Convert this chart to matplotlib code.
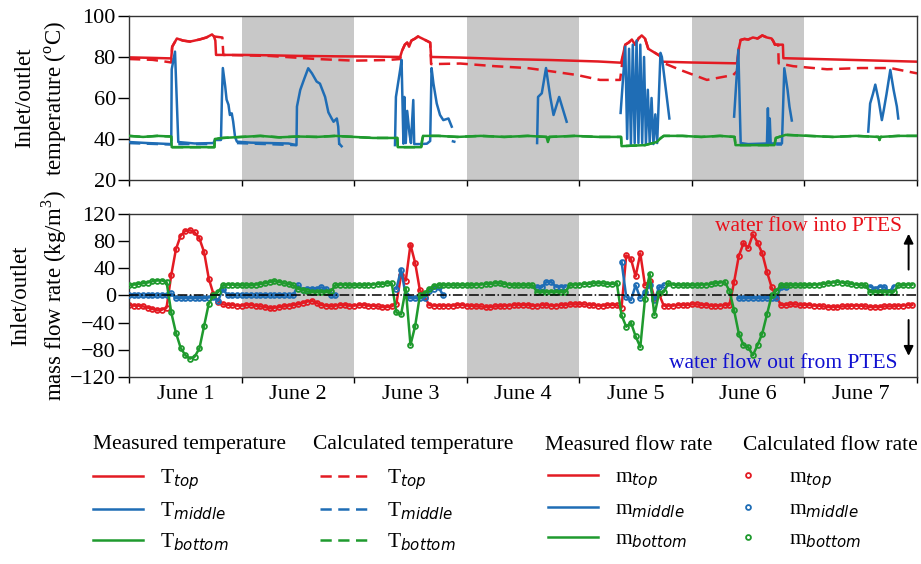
"""
PTES inlet/outlet temperature and mass flow rate, June 1-7
"""
import numpy as np
import matplotlib
matplotlib.use('Agg')
import matplotlib.pyplot as plt
from matplotlib.lines import Line2D

plt.rcParams['font.family'] = ['Liberation Serif', 'DejaVu Serif']
plt.rcParams['mathtext.fontset'] = 'custom'
plt.rcParams['mathtext.rm'] = 'Liberation Serif'
plt.rcParams['mathtext.it'] = 'DejaVu Sans:italic'
plt.rcParams['axes.unicode_minus'] = True

N = np.nan

# ---------------- data ----------------
DAY_LABELS = ['June 1', 'June 2', 'June 3', 'June 4', 'June 5', 'June 6', 'June 7']
SHADED_DAYS = [1, 3, 5]

# temperatures, (hour, degC)
T_TOP_MEAS = [
    (0, 79.8), (4, 79.6), (9.0, 79.3), (9.2, 85), (10.2, 89), (11.5, 88), (13, 87.5), (15, 88.5),
    (16.5, 89.5), (17.7, 91), (18.1, 90), (18.4, 88), (18.55, 81),
    (24, 81), (30, 80.8), (36.5, 80.5), (45, 80.3), (52, 80.2), (57.8, 80),
    (58.2, 83), (58.8, 86), (59.3, 87), (59.7, 85), (60.2, 88), (61.0, 89), (61.6, 90), (62.5, 89),
    (63.8, 87.5), (64.2, 87), (64.4, 80),
    (70.6, 79.7), (80, 79), (90, 78.5), (100, 77.8), (104.9, 77.2),
    (105.4, 82), (105.8, 86), (106.5, 87), (107.2, 88.5), (107.9, 86), (108.6, 89), (109.3, 90.5),
    (110.0, 89), (110.7, 84), (111.4, 83), (112.5, 81.5), (113.2, 80.5), (113.5, 77.7),
    (120, 77.3), (129.6, 76.9), (130.0, 84), (130.4, 88.3), (131.2, 88.8), (132.0, 88.5), (133.0, 89.5),
    (134.0, 89), (135.0, 90.5), (136.0, 89.5), (137.0, 89), (137.4, 87.5), (137.7, 86), (139.4, 86),
    (139.5, 79.4), (150, 78.8), (160, 78.2), (168, 77.7),
]
T_TOP_CALC = [
    (0, 79), (5, 78.6), (8.5, 77.5), (9.0, 77.3), (9.2, 85), (10.2, 89), (11.5, 88), (13, 87.5),
    (15, 88.5), (16.5, 89.5), (17.7, 91), (18.1, 90), (19.9, 89.5), (20.1, 81),
    (30, 80.5), (40, 79), (48, 78.2), (55, 78.5), (57.8, 79),
    (58.2, 83), (58.8, 86), (59.3, 87), (59.7, 85), (60.2, 88), (61.0, 89), (61.6, 90), (62.5, 89),
    (63.8, 87.5), (64.2, 87), (64.4, 76.5),
    (70.6, 76.8), (78, 75.5), (84.9, 74.6), (90, 73), (95.5, 71.2), (100.4, 68.8), (104.7, 68.8),
    (105.4, 82), (105.8, 86), (106.5, 87), (107.2, 88.5), (107.9, 86), (108.6, 89), (109.3, 90.5),
    (110.0, 89), (110.7, 84), (111.4, 83), (112.5, 81.5), (113.2, 80.5), (113.5, 77.5),
    (117.5, 73.7), (123.2, 68.8), (128.8, 71.2), (129.6, 73),
    (130.0, 84), (130.4, 88.3), (131.2, 88.8), (132.0, 88.5), (133.0, 89.5), (134.0, 89), (135.0, 90.5),
    (136.0, 89.5), (137.0, 89), (137.4, 87.5), (137.7, 86), (138.4, 86), (138.5, 76.9),
    (141.6, 75.5), (148.8, 74), (155.9, 74.6), (162.3, 74.6), (168, 72),
]
T_MID_MEAS = [
    (0, 38.5), (4, 38), (9.0, 37.5), (9.1, 74), (9.8, 82.6), (10.5, 38.5), (14, 37.8), (18.0, 38),
    (18.3, 39.5), (19.6, 39.5), (19.8, 60), (20.0, 74.6), (20.5, 65.7), (20.8, 59.2), (21.2, 56.7),
    (21.5, 51.7), (21.9, 52.5), (22.2, 48.5), (22.6, 41), (23.0, 38.7), (26, 38.2), (30, 38),
    (34, 37.8), (35.7, 37), (35.8, 55.8), (36.5, 63.9), (37.3, 69), (38.2, 74.5), (39.0, 72),
    (40.0, 68), (40.7, 67), (41.8, 60.5), (42.5, 53), (43.2, 50), (43.6, 48.4), (44.3, 50),
    (44.6, 46), (44.8, 37.7), (44.9, N),
    (56.7, 37), (56.9, 60.5), (57.8, 73.7), (58.1, 78.6), (58.5, 37.7), (58.7, 60.5), (59.0, 38),
    (59.3, 53.7), (59.8, 42.4), (60.1, 38), (60.6, 59), (60.8, 37.5), (62.0, 37.5), (63.5, 37.7),
    (64.2, 39), (64.5, 74.6), (64.9, 67), (65.6, 57.3), (66.3, 51.7), (67.0, 49.2), (68.1, 50),
    (68.8, 46), (68.9, N),
    (87.0, 38), (87.2, 60.5), (88.0, 62.3), (88.9, 74.6), (89.8, 60.5), (90.5, 51.7), (91.7, 60.5),
    (93.3, 48.4), (93.4, N),
    (104.8, 52.7), (105.8, 85), (106.2, 40), (106.6, 84), (107.0, 37.5), (107.4, 86), (107.8, 38),
    (108.2, 88), (108.6, 38), (109.0, 86), (109.4, 38), (109.8, 80), (110.2, 37.5), (110.6, 64),
    (111.0, 38), (111.4, 60), (111.8, 37.5), (112.2, 52), (112.6, 38), (113.3, 82), (113.6, 80),
    (114.4, 65), (115.2, 50), (115.3, N),
    (129.0, 50.9), (129.9, 83.4), (130.4, 38), (132, 37.5), (136.0, 37.8), (136.2, 55), (136.4, 37.8),
    (136.6, 50), (136.8, 37.8), (139.2, 37.8), (139.7, 74.5), (140.4, 63.9), (140.8, 55.8),
    (141.3, 49), (141.4, N),
    (157.6, 43.6), (158.0, 57.3), (158.6, 62), (159.1, 66.5), (159.8, 59), (160.5, 49.2),
    (160.9, 54), (161.5, 62), (162.3, 73.7), (163.0, 64), (163.7, 55.8), (164.0, 50),
]
T_MID_CALC = [
    (0, 38), (9.0, 37.3), (9.05, N), (10.5, 37.5), (18.0, 37.5), (18.1, N),
    (23.0, 38), (35.7, 37), (35.8, N), (44.8, 37.7), (45.5, 36), (45.6, N),
    (68.8, 39), (69.6, 38.5), (69.7, N), (130.4, 37.3), (139.2, 37.3),
]
T_BOT_MEAS = [
    (0, 41.5), (3, 41), (6, 41.5), (9.0, 41.2), (9.1, 36), (18.2, 36), (18.3, 40), (20, 40.5),
    (24, 41), (28, 41.5), (32, 40.8), (36, 41.2), (40, 41), (44, 41.5), (48, 41), (52, 40.5),
    (57.2, 40.5), (57.3, 36), (62.3, 36), (62.5, 39.5), (62.7, 41.5), (66, 41.5), (70, 41),
    (75, 41.5), (80, 41), (85, 41.5), (89.0, 41), (89.3, 38.5), (89.6, 41), (95, 41.5), (100, 41),
    (104.9, 41), (105.0, 36.5), (110, 37), (112.5, 38.5), (113.4, 40.5), (114, 41.5), (118, 41.5),
    (122, 41), (126, 41.5), (129.1, 41), (129.3, 37), (137.6, 37), (137.9, 40.5), (140, 42),
    (145, 41.5), (150, 41), (155, 41.5), (159.8, 41), (160.0, 39.5), (160.2, 41), (164, 41.5),
    (168, 41.5),
]
T_BOT_CALC = T_BOT_MEAS  # calculated bottom temperature lies on the measured curve

# mass flow rate, one value per hour (kg/m3)
M_TOP = [
    -14, -15, -15, -16, -18, -20, -22, -21, -18, 30, 68, 88, 95, 96, 93, 84, 64, 25, 2, -9, -13, -14, -14, -15,
    -15, -14, -14, -15, -16, -17, -19, -18, -17, -16, -15, -14, -13, -11, -9, -8, -11, -14, -15, -16, -15, -14, -14, -15,
    -15, -14, -14, -15, -15, -16, -17, -17, -16, -12, 30, 22, 75, 48, 8, -2, -14, -15, -15, -15, -15, -15, -14, -14,
    -15, -15, -16, -16, -17, -17, -16, -16, -15, -15, -14, -14, -14, -14, -15, -15, -14, -14, -15, -15, -14, -14, -13, -13,
    -13, -13, -14, -14, -15, -15, -14, -14, -14, -18, 59, 54, 28, 62, 15, 22, -4, 2, -15, -15, -15, -14, -14, -14,
    -13, -13, -14, -14, -15, -15, -15, -14, -14, 20, 58, 77, 70, 90, 78, 62, 35, 12, -2, -14, -14, -13, -13, -14,
    -14, -14, -15, -15, -16, -17, -17, -17, -16, -16, -15, -15, -15, -16, -17, -17, -17, -16, -16, -16, -15, -15, -14, -14,
]
M_MID = [
    0, 0, 0, 0, 0, 0, 0, 0, 0, 3, -4, -4, -4, -4, -4, -4, -4, -3, -2, -8, 10, 0, 0, 0,
    0, 0, 0, 0, 0, 0, 0, 0, 0, 0, 0, 0, 15, 8, 10, 10, 10, 12, 10, 0, 0, N, N, N,
    N, N, N, N, N, N, N, N, N, 10, 38, 0, -4, -4, -4, -4, 7, 10, 12, 0, N, N, N, N,
    N, N, N, N, N, N, N, N, N, N, N, N, N, N, N, 12, 12, 20, 20, 13, 13, 13, N, N,
    N, N, N, N, N, N, N, N, N, 50, -2, -7, 15, -4, 5, 15, -7, 12, 15, N, N, N, N, N,
    N, N, N, N, N, N, N, N, N, N, -4, -4, -4, -4, -4, -4, -4, -4, -4, 12, 12, N, N, N,
    N, N, N, N, N, N, N, N, N, N, N, N, N, N, 13, 10, 13, 13, 5, 13, N, N, N, N,
]
M_BOT = [
    15, 16, 17, 18, 19, 21, 22, 22, 20, -25, -55, -77, -88, -93, -90, -78, -45, -12, 0, 5, 15, 16, 16, 15,
    15, 15, 15, 16, 17, 18, 20, 21, 20, 18, 17, 15, 10, 8, 6, 5, 5, 5, 5, 6, 15, 16, 16, 15,
    15, 15, 15, 16, 16, 17, 17, 18, 18, -25, -28, 10, -73, -45, 0, 3, 10, 14, 15, 15, 15, 15, 15, 15,
    15, 15, 16, 16, 17, 17, 18, 18, 17, 16, 15, 15, 15, 15, 15, 5, 5, 5, 5, 5, 5, 5, 15, 16,
    16, 17, 17, 18, 18, 18, 17, 17, 18, -29, -46, -40, -60, -76, -5, 32, -29, 3, 5, 18, 16, 15, 15, 15,
    15, 15, 16, 16, 17, 18, 19, 20, 7, -22, -56, -73, -76, -88, -73, -56, -28, 0, 7, 15, 15, 15, 15, 15,
    15, 15, 16, 16, 17, 18, 19, 20, 19, 18, 17, 16, 15, 15, 5, 5, 5, 5, 5, 5, 15, 15, 16, 16,
]
# calculated flow rates sit on the measured ones
M_TOP_CALC, M_MID_CALC, M_BOT_CALC = M_TOP, M_MID, M_BOT

# ---------------- style ----------------
RED = '#e31b23'
BLUE = '#1f6db5'
GREEN = '#1f9a2e'
SHADE = '#c8c8c8'
FS = 15.5
DASH = (0, (4.5, 2.6))


def xy(pairs):
    t, v = zip(*pairs)
    return np.array(t, dtype=float), np.array(v, dtype=float)


fig = plt.figure(figsize=(9.21, 5.64), dpi=100)
ax1 = fig.add_axes([0.1401, 0.6809, 0.8556, 0.2908])
ax2 = fig.add_axes([0.1401, 0.3316, 0.8556, 0.2890])

for ax in (ax1, ax2):
    for d in SHADED_DAYS:
        ax.axvspan(24 * d, 24 * (d + 1), color=SHADE, lw=0, zorder=0)
    ax.set_xlim(0, 168)
    ax.set_xticks(np.arange(0, 169, 24))
    ax.set_xticklabels([])
    ax.tick_params(axis='x', direction='out', length=4, width=1)
    ax.tick_params(axis='y', direction='out', length=8, width=1, pad=1.5, labelsize=16)
    for sp in ax.spines.values():
        sp.set_linewidth(1.0)
        sp.set_color('#333333')

# top panel: temperatures
ax1.plot(*xy(T_TOP_CALC), color=RED, lw=1.8, ls=DASH, zorder=2)
ax1.plot(*xy(T_TOP_MEAS), color=RED, lw=1.8, zorder=2.1)
ax1.plot(*xy(T_BOT_CALC), color=GREEN, lw=1.8, ls=DASH, zorder=2.2)
ax1.plot(*xy(T_MID_CALC), color=BLUE, lw=1.8, ls=DASH, zorder=2.3)
ax1.plot(*xy(T_MID_MEAS), color=BLUE, lw=1.8, zorder=3)
ax1.plot(*xy(T_BOT_MEAS), color=GREEN, lw=1.8, zorder=4)
ax1.set_ylim(20, 100)
ax1.set_yticks([20, 40, 60, 80, 100])
ax1.set_ylabel('Inlet/outlet\ntemperature ($^{\\mathrm{o}}$C)', fontsize=16.5, linespacing=1.4)

# bottom panel: mass flow rates
hours = np.arange(len(M_TOP))
for vals, calc, col, z in [(M_TOP, M_TOP_CALC, RED, 2), (M_MID, M_MID_CALC, BLUE, 2.5),
                           (M_BOT, M_BOT_CALC, GREEN, 3)]:
    ax2.plot(hours, np.array(vals, dtype=float), color=col, lw=1.8, zorder=z)
    ax2.plot(hours, np.array(calc, dtype=float), ls='none', marker='o', ms=3.5, mew=1.3,
             mfc='none', mec=col, zorder=z + 0.1)
ax2.axhline(0, color='black', lw=1.1, ls='-.', zorder=4)
ax2.set_ylim(-120, 120)
ax2.set_yticks(np.arange(-120, 121, 40))
ax2.set_xticks(np.arange(12, 168, 24), minor=True)
ax2.set_xticklabels(DAY_LABELS, minor=True)
ax2.tick_params(axis='x', which='minor', length=0, labelsize=FS + 0.5, pad=6)
ax2.set_ylabel('Inlet/outlet\nmass flow rate (kg/m$^{\\mathrm{3}}$)', fontsize=16.5, linespacing=1.4)

# both y labels end at the same distance from the axes
for ax in (ax1, ax2):
    ax.yaxis.set_label_coords(-0.076, 0.5)

ax2.text(164.8, 101, 'water flow into PTES', color='#e8101a', fontsize=FS, ha='right', va='center')
ax2.text(163.8, -100, 'water flow out from PTES', color='#1010d0', fontsize=FS, ha='right', va='center')
ax2.annotate('', xy=(166.2, 95), xytext=(166.2, 34),
             arrowprops=dict(arrowstyle='-|>', color='black', lw=1.4, mutation_scale=14))
ax2.annotate('', xy=(166.2, -93), xytext=(166.2, -32),
             arrowprops=dict(arrowstyle='-|>', color='black', lw=1.4, mutation_scale=14))


# legends below the plots
def line_handle(col, ls='-'):
    return Line2D([], [], color=col, lw=1.8, ls=ls)


def dot_handle(col):
    return Line2D([], [], color=col, ls='none', marker='o', ms=3.5, mew=1.3, mfc='none')


legend_cols = [
    (0.101, 0.101, 'Measured temperature', [line_handle(c) for c in (RED, BLUE, GREEN)],
     ['T$_{top}$', 'T$_{middle}$', 'T$_{bottom}$'], 2.3, 0.8),
    (0.340, 0.3475, 'Calculated temperature', [line_handle(c, DASH) for c in (RED, BLUE, GREEN)],
     ['T$_{top}$', 'T$_{middle}$', 'T$_{bottom}$'], 2.3, 0.8),
    (0.592, 0.595, 'Measured flow rate', [line_handle(c) for c in (RED, BLUE, GREEN)],
     ['m$_{top}$', 'm$_{middle}$', 'm$_{bottom}$'], 2.3, 0.8),
    (0.807, 0.805, 'Calculated flow rate', [dot_handle(c) for c in (RED, BLUE, GREEN)],
     ['m$_{top}$', 'm$_{middle}$', 'm$_{bottom}$'], 0.6, 1.6),
]
for xt, xl, title, handles, labels, hl, pad in legend_cols:
    fig.text(xt, 1 - 445 / 564, title, fontsize=FS, ha='left', va='center')
    fig.legend(handles, labels, loc='upper left', bbox_to_anchor=(xl, 1 - 467 / 564),
               frameon=False, fontsize=FS, handlelength=hl, handletextpad=pad,
               labelspacing=0.42, borderpad=0, borderaxespad=0, numpoints=1)

plt.savefig('out.png', dpi=100)
plt.close()
